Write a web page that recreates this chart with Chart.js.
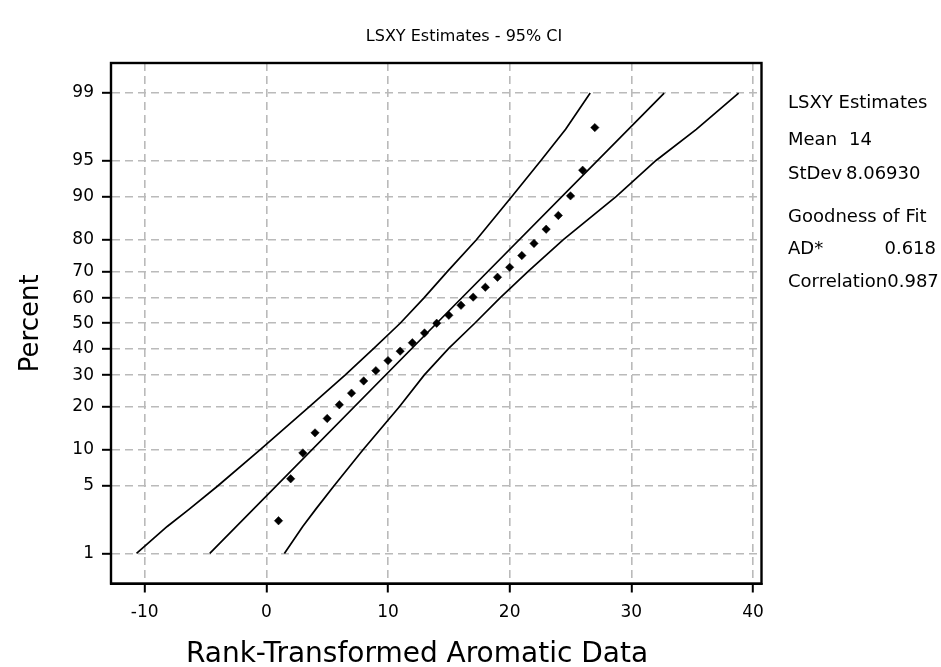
<!DOCTYPE html>
<html>
<head>
<meta charset="utf-8">
<script src="https://cdn.jsdelivr.net/npm/chart.js@4.4.1/dist/chart.umd.min.js"></script>
<style>
  html, body { margin: 0; padding: 0; background: #fff; }
  canvas { display: block; }
</style>
</head>
<body>
<canvas id="c" width="941" height="667"></canvas>
<script>
// ---------- data ----------
const RANKS = [1, 2, 3, 4, 5, 6, 7, 8, 9, 10, 11, 12, 13, 14, 15, 16, 17, 18, 19, 20, 21, 22, 23, 24, 25, 26, 27];
const PERCENTS = [2.3, 5.8, 9.5, 13.4, 16.8, 20.5, 24.0, 28.0, 31.6, 35.3, 38.9, 42.2, 46.1, 50.0, 53.2, 57.2, 60.4, 64.2, 67.9, 71.4, 75.3, 79.0, 82.9, 86.2, 90.1, 93.9, 97.6];

const BAND_PCT   = [1, 2, 3, 5, 10, 20, 30, 40, 50, 60, 70, 80, 90, 95, 97.5, 99];
const BAND_LOWER = [-10.67, -8.15, -6.36, -4.0, -0.55, 3.54, 6.47, 8.83, 11.0, 12.94, 14.89, 17.25, 20.18, 22.57, 24.6, 26.62];
const BAND_UPPER = [1.48, 2.99, 4.05, 5.55, 7.93, 10.95, 12.97, 14.99, 17.13, 19.19, 21.52, 24.39, 28.77, 32.03, 35.34, 38.82];

const FIT_PCT = [1, 50, 99];
const FIT_X   = [-4.65, 14.0, 32.7];

const X_TICKS = [-10, 0, 10, 20, 30, 40];
const Y_TICKS = [1, 5, 10, 20, 30, 40, 50, 60, 70, 80, 90, 95, 99];

const TITLE = 'LSXY Estimates - 95% CI';
const X_TITLE = 'Rank-Transformed Aromatic Data';
const Y_TITLE = 'Percent';
const STAT_LABELS = ['Mean', 'StDev'];
const STAT_VALUES = ['14', '8.06930'];
const FIT_LABELS = ['AD*', 'Correlation'];
const FIT_VALUES = ['0.618', '0.987'];

// ---------- normal distribution helpers (axis transform) ----------
function probit(p) {
  const a = [-3.969683028665376e+01, 2.209460984245205e+02, -2.759285104469687e+02, 1.383577518672690e+02, -3.066479806614716e+01, 2.506628277459239e+00];
  const b = [-5.447609879822406e+01, 1.615858368580409e+02, -1.556989798598866e+02, 6.680131188771972e+01, -1.328068155288572e+01];
  const c = [-7.784894002430293e-03, -3.223964580411365e-01, -2.400758277161838e+00, -2.549732539343734e+00, 4.374664141464968e+00, 2.938163982698783e+00];
  const d = [7.784695709041462e-03, 3.224671290700398e-01, 2.445134137142996e+00, 3.754408661907416e+00];
  const pl = 0.02425, ph = 1 - pl;
  let q, r;
  if (p < pl) {
    q = Math.sqrt(-2 * Math.log(p));
    return (((((c[0]*q+c[1])*q+c[2])*q+c[3])*q+c[4])*q+c[5]) / ((((d[0]*q+d[1])*q+d[2])*q+d[3])*q+1);
  }
  if (p <= ph) {
    q = p - 0.5; r = q * q;
    return (((((a[0]*r+a[1])*r+a[2])*r+a[3])*r+a[4])*r+a[5])*q / (((((b[0]*r+b[1])*r+b[2])*r+b[3])*r+b[4])*r+1);
  }
  q = Math.sqrt(-2 * Math.log(1 - p));
  return -(((((c[0]*q+c[1])*q+c[2])*q+c[3])*q+c[4])*q+c[5]) / ((((d[0]*q+d[1])*q+d[2])*q+d[3])*q+1);
}
function normCdf(z) {
  const t = 1 / (1 + 0.2316419 * Math.abs(z));
  const y = 0.3989422804014327 * Math.exp(-z * z / 2);
  const p = y * t * (0.319381530 + t * (-0.356563782 + t * (1.781477937 + t * (-1.821255978 + t * 1.330274429))));
  return z > 0 ? 1 - p : p;
}

// ---------- probability (probit) scale ----------
class ProbitScale extends Chart.LinearScale {
  determineDataLimits() {
    this.min = this.options.min;
    this.max = this.options.max;
  }
  buildTicks() {
    return Y_TICKS.map(v => ({ value: v }));
  }
  configure() {
    super.configure();
    this._zStart = probit(this.min / 100);
    this._zEnd = probit(this.max / 100);
  }
  getPixelForValue(value) {
    const z = probit(value / 100);
    return this.getPixelForDecimal((z - this._zStart) / (this._zEnd - this._zStart));
  }
  getValueForPixel(pixel) {
    const dec = this.getDecimalForPixel(pixel);
    return 100 * normCdf(this._zStart + dec * (this._zEnd - this._zStart));
  }
}
ProbitScale.id = 'probit';
ProbitScale.defaults = {};
Chart.register(ProbitScale);

const FONT = '"DejaVu Sans", "Liberation Sans", Arial, sans-serif';
Chart.defaults.font.family = FONT;
Chart.defaults.color = '#000';

const toPoints = (xs, ys) => xs.map((x, i) => ({ x: x, y: ys[i] }));

const lineStyle = {
  showLine: true, pointRadius: 0, borderColor: '#000', borderWidth: 1.7,
  backgroundColor: '#000', tension: 0, fill: false
};

const framePlugin = {
  id: 'frame',
  afterDatasetsDraw(chart) {
    const { ctx, chartArea: a } = chart;
    ctx.save();
    ctx.strokeStyle = '#000';
    ctx.lineWidth = 2.4;
    ctx.strokeRect(a.left, a.top, a.right - a.left, a.bottom - a.top);
    ctx.restore();
  }
};

const textPlugin = {
  id: 'texts',
  afterDraw(chart) {
    const ctx = chart.ctx;
    ctx.save();
    ctx.fillStyle = '#000';
    ctx.textBaseline = 'middle';
    // chart title
    ctx.textAlign = 'center';
    ctx.font = '16px ' + FONT;
    ctx.fillText(TITLE, 464, 37);
    // x axis title
    ctx.font = '28px ' + FONT;
    ctx.fillText(X_TITLE, 417, 655);
    // side panel
    ctx.textAlign = 'left';
    ctx.font = '18px ' + FONT;
    ctx.fillText('LSXY Estimates', 788, 103);
    ctx.fillText(STAT_LABELS[0], 788, 140);
    ctx.fillText(STAT_VALUES[0], 849, 140);
    ctx.fillText(STAT_LABELS[1], 788, 174);
    ctx.fillText(STAT_VALUES[1], 846, 174);
    ctx.fillText('Goodness of Fit', 788, 217);
    ctx.fillText(FIT_LABELS[0], 788, 249);
    ctx.textAlign = 'right';
    ctx.fillText(FIT_VALUES[0], 936, 249);
    ctx.textAlign = 'left';
    const w = ctx.measureText(FIT_LABELS[1]).width;
    ctx.fillText(FIT_LABELS[1], 788, 282);
    ctx.fillText(FIT_VALUES[1], 788 + w, 282);
    ctx.restore();
  }
};

new Chart(document.getElementById('c'), {
  type: 'scatter',
  data: {
    datasets: [
      Object.assign({ label: 'Lower bound', data: toPoints(BAND_LOWER, BAND_PCT) }, lineStyle),
      Object.assign({ label: 'Fit', data: toPoints(FIT_X, FIT_PCT) }, lineStyle),
      Object.assign({ label: 'Upper bound', data: toPoints(BAND_UPPER, BAND_PCT) }, lineStyle),
      {
        label: 'Data', data: toPoints(RANKS, PERCENTS),
        pointStyle: 'rectRot', pointRadius: 4.2, pointHoverRadius: 4.2,
        backgroundColor: '#000', borderColor: '#000', borderWidth: 0.5, showLine: false
      }
    ]
  },
  options: {
    responsive: false,
    devicePixelRatio: 1,
    animation: false,
    events: [],
    layout: { padding: { left: 0, right: 179.5, top: 63, bottom: 0 } },
    plugins: {
      legend: { display: false },
      tooltip: { enabled: false },
      title: { display: false }
    },
    scales: {
      x: {
        type: 'linear', position: 'bottom',
        min: -12.77, max: 40.7,
        afterBuildTicks: s => { s.ticks = X_TICKS.map(v => ({ value: v })); },
        afterFit: s => { s.height = 83.5; },
        ticks: { font: { size: 17 }, color: '#000', padding: 10, autoSkip: false, maxRotation: 0,
                 callback: v => String(v) },
        grid: { color: '#bababa', lineWidth: 1.6, drawTicks: true, tickLength: 9,
                tickColor: '#000', tickWidth: 2 },
        border: { display: true, color: '#000', width: 2, dash: [8, 5] }
      },
      y: {
        type: 'probit', position: 'left',
        min: 0.427, max: 99.573,
        afterFit: s => { s.width = 111; },
        ticks: { font: { size: 17 }, color: '#000', padding: 8, autoSkip: false,
                 callback: v => String(v) },
        grid: { color: '#bababa', lineWidth: 1.6, drawTicks: true, tickLength: 9,
                tickColor: '#000', tickWidth: 2 },
        border: { display: true, color: '#000', width: 2, dash: [8, 5] },
        title: { display: true, text: Y_TITLE, color: '#000',
                 font: { size: 26, family: FONT }, padding: { top: 16, bottom: 0 } }
      }
    }
  },
  plugins: [framePlugin, textPlugin]
});
</script>
</body>
</html>
